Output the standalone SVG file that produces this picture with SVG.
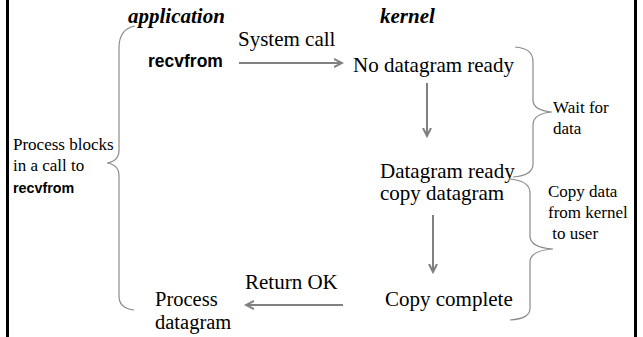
<svg xmlns="http://www.w3.org/2000/svg" width="643" height="337" viewBox="0 0 643 337">
<style>
.s{font-family:'Liberation Serif','Times New Roman',Tinos,'DejaVu Serif',serif;fill:#000}
.h{font-family:'Liberation Serif','Times New Roman',Tinos,'DejaVu Serif',serif;font-weight:bold;font-style:italic;font-size:21px;fill:#000}
.c{font-family:'Liberation Sans',Arial,sans-serif;font-weight:bold;fill:#000}
.arr{stroke:#808080;stroke-width:2;fill:none}
.br{stroke:#8a8a8a;stroke-width:1.2;fill:none}
.bd{stroke:#000;stroke-width:3}
</style>
<defs>
<marker id="ah" markerWidth="10" markerHeight="10" refX="8" refY="5" orient="auto" markerUnits="userSpaceOnUse">
<path d="M0,1 L8,5 L0,9" stroke="#808080" stroke-width="2" fill="none"/>
</marker>
</defs>
<line class="bd" x1="7.5" y1="0" x2="7.5" y2="337"/>
<line class="bd" x1="635.5" y1="0" x2="635.5" y2="337"/>
<g id="headers">
<text class="h" font-family="Liberation Serif, serif" x="128" y="23">application</text>
<text class="h" font-family="Liberation Serif, serif" x="380" y="23">kernel</text>
</g>
<g id="recvfrom-call">
<text class="c" x="148" y="67" font-size="17.5">recvfrom</text>
</g>
<g id="no-datagram">
<text class="s" font-family="Liberation Serif, serif" x="353" y="72" font-size="21">No datagram ready</text>
</g>
<g id="datagram-ready">
<text class="s" font-family="Liberation Serif, serif" x="380" y="178" font-size="21">Datagram ready</text>
<text class="s" font-family="Liberation Serif, serif" x="380" y="200" font-size="21">copy datagram</text>
</g>
<g id="copy-complete">
<text class="s" font-family="Liberation Serif, serif" x="385" y="306" font-size="21">Copy complete</text>
</g>
<g id="process-datagram">
<text class="s" font-family="Liberation Serif, serif" x="155" y="306" font-size="20.5">Process</text>
<text class="s" font-family="Liberation Serif, serif" x="155" y="329" font-size="20.5">datagram</text>
</g>
<g id="connectors">
<line class="arr" x1="239" y1="63" x2="342" y2="63" marker-end="url(#ah)"/>
<text class="s" font-family="Liberation Serif, serif" x="238" y="46" font-size="21">System call</text>
<line class="arr" x1="427" y1="83" x2="427" y2="136" marker-end="url(#ah)"/>
<line class="arr" x1="433" y1="215" x2="433" y2="272" marker-end="url(#ah)"/>
<line class="arr" x1="343" y1="305" x2="246" y2="305" marker-end="url(#ah)"/>
<text class="s" font-family="Liberation Serif, serif" x="245" y="289" font-size="21">Return OK</text>
</g>
<g id="brace-left">
<path class="br" d="M135,26 C124,28 119,36 119,48 L119,150 C119,158 114,162 107,163 C114,164 119,168 119,176 L119,296 C119,304 124,309 134,310"/>
<text class="s" font-family="Liberation Serif, serif" x="13" y="150" font-size="17">Process blocks</text>
<text class="s" font-family="Liberation Serif, serif" x="13" y="171" font-size="17">in a call to</text>
<text class="c" x="13" y="193" font-size="14.3">recvfrom</text>
</g>
<g id="brace-wait">
<path class="br" d="M515,47 C527,48 533,52 533,62 L533,100 C533,107 540,111 552,112 C540,113 533,117 533,125 L533,164 C533,172 526,176 513,177"/>
<text class="s" font-family="Liberation Serif, serif" x="553" y="113" font-size="17">Wait for</text>
<text class="s" font-family="Liberation Serif, serif" x="553" y="134" font-size="17">data</text>
</g>
<g id="brace-copy">
<path class="br" d="M509,179 C523,180 530,184 530,193 L530,236 C530,244 538,248 553,249 C538,250 530,254 530,262 L530,308 C530,316 523,319 510,320"/>
<text class="s" font-family="Liberation Serif, serif" x="548" y="197" font-size="17">Copy data</text>
<text class="s" font-family="Liberation Serif, serif" x="548" y="218" font-size="17">from kernel</text>
<text class="s" font-family="Liberation Serif, serif" x="548" y="239" font-size="17" xml:space="preserve"> to user</text>
</g>
</svg>
